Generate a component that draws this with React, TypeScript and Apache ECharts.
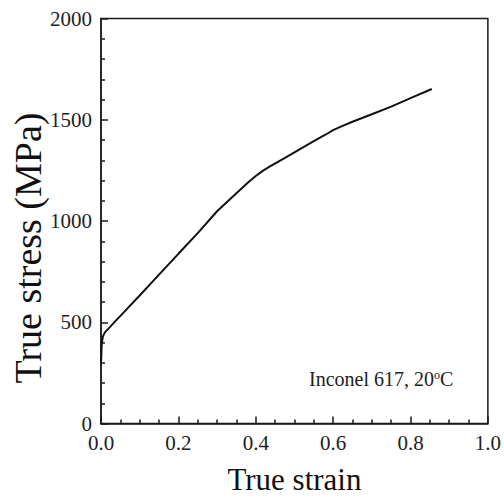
import React, { useEffect, useRef } from "react";
import * as echarts from "echarts";

const strain = [0, 0.001, 0.002, 0.005, 0.01, 0.02, 0.036, 0.06, 0.1, 0.15, 0.2, 0.25, 0.3, 0.35, 0.38, 0.4, 0.42, 0.44, 0.47, 0.5, 0.55, 0.58, 0.6, 0.62, 0.65, 0.7, 0.75, 0.8, 0.855];
const stress = [290, 350, 395, 430, 450, 470, 503, 551, 632, 735, 838, 940, 1048, 1137, 1190, 1222, 1250, 1273, 1306, 1339, 1394, 1426, 1449, 1466, 1490, 1527, 1565, 1607, 1652];

const xTitle = "True strain";
const yTitle = "True stress (MPa)";
const note = "Inconel 617, 20{sup|o}C";

export default function App() {
  const ref = useRef<HTMLDivElement>(null);
  useEffect(() => {
    if (!ref.current) return;
    const chart = echarts.init(ref.current, null, { renderer: "svg" });
    const font = "'Liberation Serif', 'Times New Roman', serif";
    const axisColor = "#1a1a1a";
    chart.setOption({
      animation: false,
      backgroundColor: "#ffffff",
      grid: {
        left: 101,
        right: 16,
        top: 18.5,
        bottom: 80.5,
        show: true,
        borderColor: axisColor,
        borderWidth: 1.5,
        containLabel: false,
      },
      xAxis: {
        type: "value",
        min: 0,
        max: 1,
        interval: 0.2,
        name: xTitle,
        nameLocation: "middle",
        nameGap: 40,
        nameTextStyle: { fontFamily: font, fontSize: 31, color: "#111" },
        axisLine: { show: true, lineStyle: { color: axisColor, width: 1.5 } },
        axisTick: { show: true, inside: true, length: 7, lineStyle: { color: axisColor, width: 1.5 } },
        minorTick: { show: true, splitNumber: 4, length: 4, lineStyle: { color: axisColor, width: 1.5 } },
        splitLine: { show: false },
        axisLabel: {
          fontFamily: font,
          fontSize: 21,
          color: "#222",
          margin: 9,
          formatter: (v: number) => v.toFixed(1),
        },
      },
      yAxis: {
        type: "value",
        min: 0,
        max: 2000,
        interval: 500,
        axisLine: { show: true, lineStyle: { color: axisColor, width: 1.5 } },
        axisTick: { show: true, inside: true, length: 7, lineStyle: { color: axisColor, width: 1.5 } },
        minorTick: { show: true, splitNumber: 5, length: 4, lineStyle: { color: axisColor, width: 1.5 } },
        splitLine: { show: false },
        axisLabel: {
          fontFamily: font,
          fontSize: 21,
          color: "#222",
          margin: 9,
          formatter: (v: number) => String(v),
        },
      },
      graphic: [
        {
          type: "text",
          x: 28,
          y: 248,
          rotation: Math.PI / 2,
          style: {
            text: yTitle,
            fontFamily: font,
            fontSize: 38,
            fill: "#111",
            align: "center",
            verticalAlign: "middle",
          },
        },
        {
          type: "text",
          left: 309,
          top: 369,
          style: {
            text: note,
            fontFamily: font,
            fontSize: 20,
            fill: "#222",
            rich: {
              sup: { fontFamily: font, fontSize: 12, verticalAlign: "top", padding: [0, 0, 8, 0], fill: "#222" },
            },
          },
        },
      ],
      series: [
        {
          type: "line",
          data: strain.map((s, i) => [s, stress[i]]),
          showSymbol: false,
          symbol: "none",
          lineStyle: { color: "#111", width: 2 },
          smooth: false,
        },
      ],
    });
    return () => chart.dispose();
  }, []);
  return <div ref={ref} style={{ position: "absolute", left: 0, top: 0, width: 504, height: 504 }} />;
}
